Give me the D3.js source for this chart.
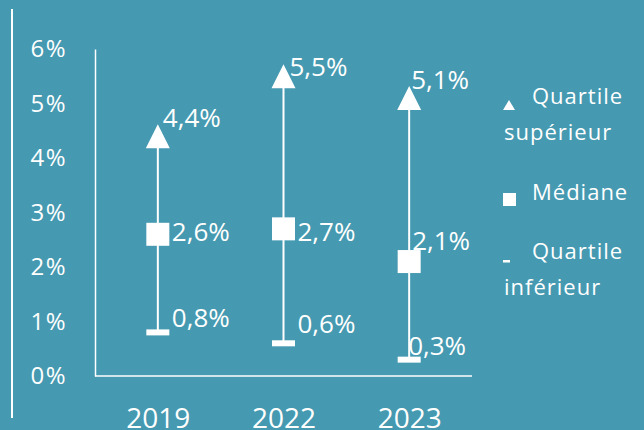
<!DOCTYPE html>
<html>
<head>
<meta charset="utf-8">
<script src="https://cdn.jsdelivr.net/npm/d3@7"></script>
<style>
  html, body { margin: 0; padding: 0; background: #4599b0; }
  svg { display: block; font-family: "Open Sans", "Noto Sans", sans-serif; }
  text { fill: #fff; }
</style>
</head>
<body>
<div class="canvas"></div>
<script>
// data
const years = ['2019', '2022', '2023'];
const upper = [4.4, 5.5, 5.1];
const median = [2.6, 2.7, 2.1];
const lower = [0.8, 0.6, 0.3];
const yTicks = [0, 1, 2, 3, 4, 5, 6];
const legendLabels = [['Quartile', 'supérieur'], ['Médiane'], ['Quartile', 'inférieur']];

// label nudges (dx, dy) per year, by series
const nudge = {
  upper: [[5, -18], [6, -9], [2, -18]],
  median: [[14, -2], [14, 3], [3, -21]],
  lower: [[14, -15], [14, -19], [-1, -14]],
};

const fmt = d => `${String(d).replace('.', ',')}%`;
const font = '"Open Sans", "Noto Sans", sans-serif';

const svg = d3.select('.canvas')
  .append('svg')
  .attr('width', 644)
  .attr('height', 430);

const margin = { top: 49, left: 95, right: 172, bottom: 54 };
const graphHeight = 430 - margin.top - margin.bottom;
const graphWidth = 644 - margin.left - margin.right;

const y = d3.scaleLinear().domain([0, 6]).range([margin.top + graphHeight, margin.top]);
const x = d3.scalePoint().domain(years).range([margin.left, margin.left + graphWidth]).padding(0.5);

// left decorative rule
svg.append('line')
  .attr('x1', 12).attr('x2', 12)
  .attr('y1', 9).attr('y2', 418)
  .attr('stroke', '#fff')
  .attr('stroke-width', 2);

// y axis
const yAxisGroup = svg.append('g')
  .attr('transform', `translate(${margin.left},0)`)
  .call(d3.axisLeft(y).tickValues(yTicks).tickFormat(d => `${d}%`).tickSize(0).tickPadding(28));

// x axis
const xAxisGroup = svg.append('g')
  .attr('transform', `translate(0,${y(0)})`)
  .call(d3.axisBottom(x).tickSize(0).tickPadding(32));

xAxisGroup.select('.domain').attr('d', `M${margin.left},0H${margin.left + graphWidth}`);

[yAxisGroup, xAxisGroup].forEach((g) => {
  g.select('.domain').attr('stroke', '#fff').attr('stroke-width', 1.5);
  g.selectAll('text')
    .attr('fill', '#fff')
    .style('font-family', font);
});
yAxisGroup.selectAll('text')
  .style('font-size', '24px')
  .style('letter-spacing', '1.5px');
xAxisGroup.selectAll('text')
  .style('font-size', '28px');

const rows = years.map((yr, i) => ({
  year: yr, hi: upper[i], mid: median[i], lo: lower[i], i,
}));

const marks = svg.append('g');

// whiskers
marks.selectAll('line.whisker')
  .data(rows)
  .enter()
  .append('line')
  .attr('class', 'whisker')
  .attr('x1', d => x(d.year))
  .attr('x2', d => x(d.year))
  .attr('y1', d => y(d.hi))
  .attr('y2', d => y(d.lo))
  .attr('stroke', '#fff')
  .attr('stroke-width', 2);

// lower quartile bars
marks.selectAll('rect.low')
  .data(rows)
  .enter()
  .append('rect')
  .attr('class', 'low')
  .attr('x', d => x(d.year) - 11.5)
  .attr('y', d => y(d.lo) - 3)
  .attr('width', 23)
  .attr('height', 6)
  .attr('fill', '#fff');

// medians
marks.selectAll('rect.mid')
  .data(rows)
  .enter()
  .append('rect')
  .attr('class', 'mid')
  .attr('x', d => x(d.year) - 11.5)
  .attr('y', d => y(d.mid) - 11.5)
  .attr('width', 23)
  .attr('height', 23)
  .attr('fill', '#fff');

// upper quartile triangles
marks.selectAll('path.hi')
  .data(rows)
  .enter()
  .append('path')
  .attr('class', 'hi')
  .attr('d', (d) => {
    const cx = x(d.year);
    const cy = y(d.hi);
    return `M${cx},${cy - 12}L${cx + 12},${cy + 12}L${cx - 12},${cy + 12}Z`;
  })
  .attr('fill', '#fff');

// value labels
['upper', 'median', 'lower'].forEach((key) => {
  const field = { upper: 'hi', median: 'mid', lower: 'lo' }[key];
  marks.selectAll(`text.${key}`)
    .data(rows)
    .enter()
    .append('text')
    .attr('class', key)
    .attr('x', d => x(d.year) + nudge[key][d.i][0])
    .attr('y', d => y(d[field]) + nudge[key][d.i][1])
    .attr('dy', '0.35em')
    .style('font-size', '26px')
    .text(d => fmt(d[field]));
});

// legend
const legend = svg.append('g').attr('transform', 'translate(503,0)');
const legendY = [104, 200, 259];

legend.append('path')
  .attr('d', `M6,${legendY[0] - 4}L12,${legendY[0] + 6}L0,${legendY[0] + 6}Z`)
  .attr('fill', '#fff');
legend.append('rect')
  .attr('x', 0).attr('y', legendY[1] - 7)
  .attr('width', 13).attr('height', 13)
  .attr('fill', '#fff');
legend.append('rect')
  .attr('x', 0).attr('y', legendY[2] + 1)
  .attr('width', 7).attr('height', 2.5)
  .attr('fill', '#fff');

legendLabels.forEach((lines, i) => {
  const t = legend.append('text')
    .attr('y', legendY[i])
    .attr('dy', '0.35em')
    .style('font-size', '22px')
    .style('letter-spacing', '1px');
  lines.forEach((ln, j) => {
    t.append('tspan')
      .attr('x', j === 0 ? 29 : 1)
      .attr('dy', j === 0 ? 0 : 36)
      .text(ln);
  });
});
</script>
</body>
</html>
